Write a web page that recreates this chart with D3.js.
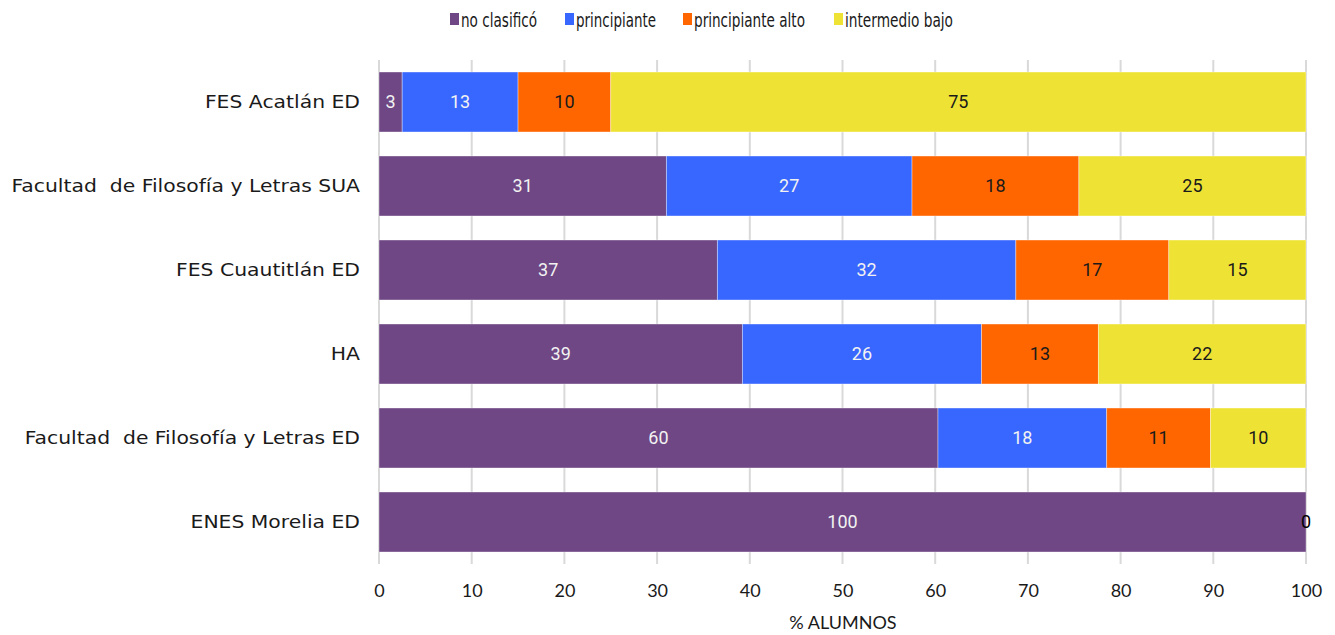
<!DOCTYPE html>
<html><head><meta charset="utf-8">
<script src="https://cdn.jsdelivr.net/npm/d3@7"></script>
<style>body{margin:0;background:#fff}</style>
</head><body><svg id="c" width="1335" height="635"></svg>
<script>
const categories = ["FES Acatlán ED","Facultad  de Filosofía y Letras SUA","FES Cuautitlán ED","HA","Facultad  de Filosofía y Letras ED","ENES Morelia ED"];
const seriesNames = ["no clasificó","principiante","principiante alto","intermedio bajo"];
const noClasifico = [2.5, 31, 36.5, 39.2, 60.3, 100];
const principiante = [12.5, 26.5, 32.2, 25.8, 18.2, 0];
const principianteAlto = [10, 18, 16.5, 12.6, 11.2, 0];
const intermedioBajo = [75, 24.5, 14.8, 22.4, 10.3, 0];
const xTicks = [0,10,20,30,40,50,60,70,80,90,100];
const colors = ["#6E4784","#3867FF","#FF6600","#EEE335"];
const labelColors = ["#F2F2F2","#F2F2F2","#1a1a1a","#1a1a1a"];

(function(){
const svg = d3.select("#c");
const pL = 379, pR = 1306, pT = 60, pB = 564;
const x = d3.scaleLinear().domain([0,100]).range([pL,pR]);
const y = d3.scaleBand().domain(categories).range([pT,pB]).paddingInner(0.286).paddingOuter(0.143);

const seriesVals = [noClasifico, principiante, principianteAlto, intermedioBajo];
const rows = categories.map((c,i)=>{const o={cat:c}; seriesNames.forEach((s,j)=>o[s]=seriesVals[j][i]); return o;});
const stacked = d3.stack().keys(seriesNames)(rows);

svg.append("g").selectAll("line").data(xTicks).join("line")
  .attr("x1",d=>x(d)).attr("x2",d=>x(d)).attr("y1",pT).attr("y2",pB)
  .attr("stroke","#D9D9D9").attr("stroke-width",2);

const font = "'Century Gothic','Lato','DejaVu Sans',sans-serif";
const catFont = "'Century Gothic','DejaVu Sans',sans-serif";

stacked.forEach((s,j)=>{
  svg.append("g").selectAll("rect").data(s).join("rect")
    .attr("x",d=>x(d[0])).attr("width",d=>x(d[1])-x(d[0]))
    .attr("y",d=>y(d.data.cat)).attr("height",y.bandwidth())
    .attr("fill",colors[j]).attr("stroke","rgba(255,255,255,0.45)").attr("stroke-width",0.8);
});
stacked.forEach((s,j)=>{
  svg.append("g").selectAll("text").data(s.filter(d=>(d[1]-d[0])>0 || j===seriesNames.length-1)).join("text")
    .attr("x",d=>x((d[0]+d[1])/2)).attr("y",d=>y(d.data.cat)+y.bandwidth()/2)
    .attr("dy","0.36em").attr("text-anchor","middle")
    .attr("font-family","Roboto, sans-serif").attr("font-size",18)
    .attr("fill",d=>(d[1]-d[0])>0?labelColors[j]:"#000")
    .text(d=>Math.round(d[1]-d[0]));
});

const cl = svg.append("g").selectAll("text").data(categories).join("text")
  .attr("x",360).attr("y",d=>y(d)+y.bandwidth()/2).attr("dy","0.36em")
  .attr("text-anchor","end").attr("font-family",catFont).attr("font-size",18).attr("fill","#1a1a1a")
  .attr("xml:space","preserve").style("white-space","pre")
  .text(d=>d);
cl.each(function(){ const w=this.getComputedTextLength(); d3.select(this).attr("textLength", w*1.13).attr("lengthAdjust","spacingAndGlyphs"); });

const xa = svg.append("g").attr("transform",`translate(0,${pB+6})`)
  .call(d3.axisBottom(x).tickValues(xTicks).tickSize(0).tickPadding(14));
xa.select(".domain").remove();
xa.selectAll("text").attr("font-family",font).attr("font-size",18).attr("fill","#1a1a1a");

svg.append("text").attr("x",843).attr("y",629).attr("text-anchor","middle")
  .attr("font-family",font).attr("font-size",18).attr("fill","#1a1a1a").text("% ALUMNOS");

const legX = [450,565,683,834];
const legW = [76,80,111,108];
const lg = svg.append("g").selectAll("g").data(seriesNames).join("g")
  .attr("transform",(d,i)=>`translate(${legX[i]},0)`);
lg.append("rect").attr("x",0).attr("y",13).attr("width",9).attr("height",12).attr("fill",(d,i)=>colors[i]);
lg.append("text").attr("x",11).attr("y",27).attr("font-family",catFont).attr("font-size",20).attr("fill","#1a1a1a")
  .attr("textLength",(d,i)=>legW[i]).attr("lengthAdjust","spacingAndGlyphs").text(d=>d);
})();
</script></body></html>
